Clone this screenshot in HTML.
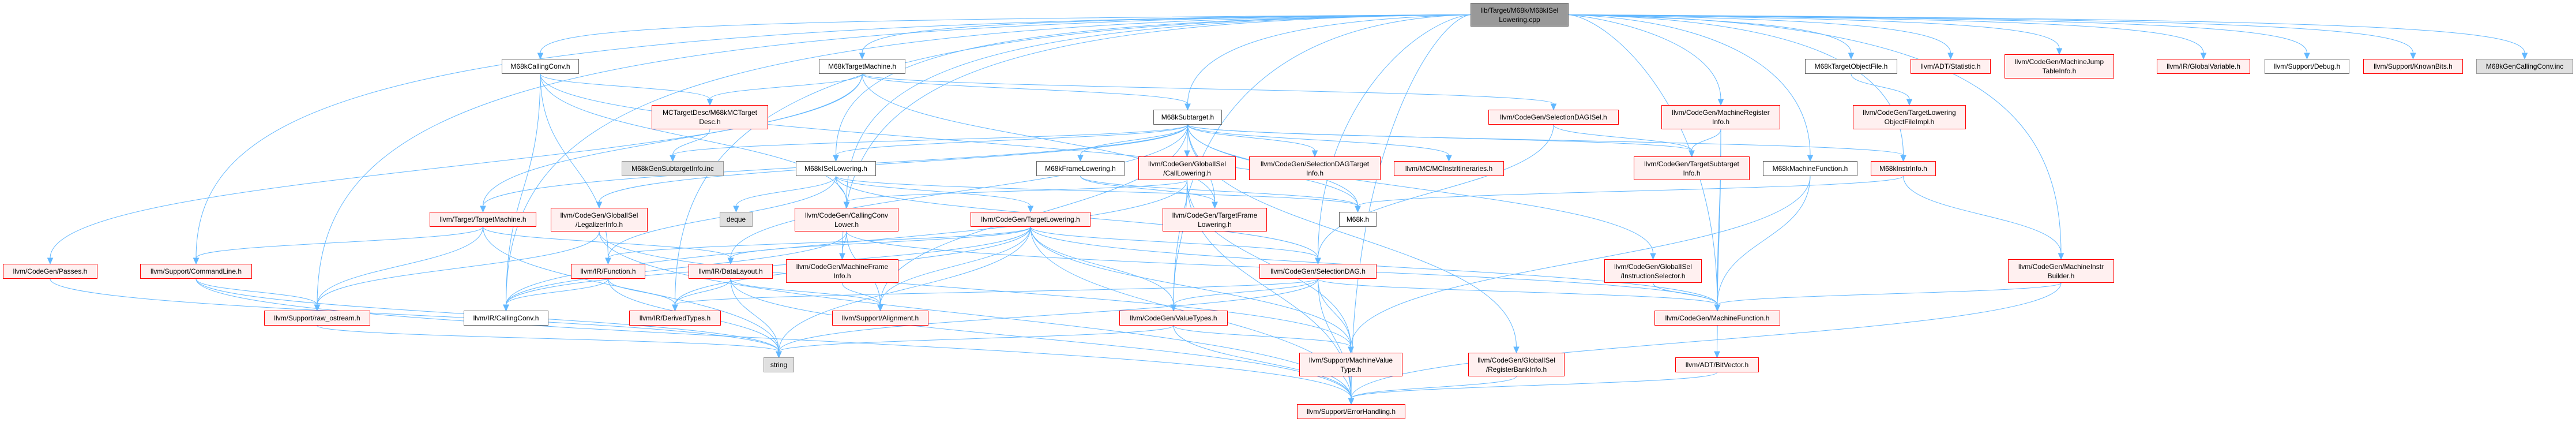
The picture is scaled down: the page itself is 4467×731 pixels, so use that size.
<!DOCTYPE html>
<html><head><meta charset="utf-8">
<style>
html,body{margin:0;padding:0;background:#fff;}
#wrap{position:relative;width:4467px;height:731px;overflow:hidden;background:#fff;}
svg{position:absolute;left:0;top:0;}
.n{position:absolute;box-sizing:border-box;font-family:"Liberation Sans",Arial,sans-serif;font-size:12px;color:#000;text-align:center;display:flex;align-items:center;justify-content:center;line-height:16px;white-space:nowrap;}
.r{background:#fff0f0;border:1px solid #ff0000;}
.w{background:#fff;border:1px solid #666;}
.g{background:#e0e0e0;border:1px solid #999;}
.root{background:#999;border:1px solid #666;}
</style></head><body>
<div id="wrap">
<svg id="edges" width="4467" height="731"></svg>

<div class="n root" id="root" style="left:2550px;top:5px;width:170px;height:41px">lib/Target/M68k/M68kISel<br>Lowering.cpp</div>

<div class="n w" id="cc" style="left:870px;top:102px;width:134px;height:26px">M68kCallingConv.h</div>
<div class="n w" id="tm" style="left:1420px;top:102px;width:150px;height:26px">M68kTargetMachine.h</div>
<div class="n w" id="tof" style="left:3130px;top:102px;width:160px;height:26px">M68kTargetObjectFile.h</div>
<div class="n r" id="stat" style="left:3313px;top:102px;width:139px;height:26px">llvm/ADT/Statistic.h</div>
<div class="n r" id="mjt" style="left:3476px;top:94px;width:190px;height:42px">llvm/CodeGen/MachineJump<br>TableInfo.h</div>
<div class="n r" id="gv" style="left:3740px;top:102px;width:162px;height:26px">llvm/IR/GlobalVariable.h</div>
<div class="n w" id="dbg" style="left:3927px;top:102px;width:147px;height:26px">llvm/Support/Debug.h</div>
<div class="n r" id="kb" style="left:4098px;top:102px;width:173px;height:26px">llvm/Support/KnownBits.h</div>
<div class="n g" id="gcc" style="left:4294px;top:102px;width:168px;height:26px">M68kGenCallingConv.inc</div>

<div class="n r" id="mctd" style="left:1130px;top:182px;width:202px;height:42px">MCTargetDesc/M68kMCTarget<br>Desc.h</div>
<div class="n w" id="st" style="left:2000px;top:190px;width:119px;height:26px">M68kSubtarget.h</div>
<div class="n r" id="sdisel" style="left:2581px;top:190px;width:226px;height:26px">llvm/CodeGen/SelectionDAGISel.h</div>
<div class="n r" id="mri" style="left:2881px;top:182px;width:206px;height:42px">llvm/CodeGen/MachineRegister<br>Info.h</div>
<div class="n r" id="tlofi" style="left:3213px;top:182px;width:196px;height:42px">llvm/CodeGen/TargetLowering<br>ObjectFileImpl.h</div>

<div class="n g" id="gsi" style="left:1078px;top:279px;width:177px;height:26px">M68kGenSubtargetInfo.inc</div>
<div class="n w" id="isl" style="left:1380px;top:279px;width:139px;height:26px">M68kISelLowering.h</div>
<div class="n w" id="fl" style="left:1797px;top:279px;width:153px;height:26px">M68kFrameLowering.h</div>
<div class="n r" id="cl" style="left:1974px;top:271px;width:169px;height:41px">llvm/CodeGen/GlobalISel<br>/CallLowering.h</div>
<div class="n r" id="sdti" style="left:2166px;top:271px;width:228px;height:41px">llvm/CodeGen/SelectionDAGTarget<br>Info.h</div>
<div class="n r" id="mcii" style="left:2417px;top:279px;width:191px;height:26px">llvm/MC/MCInstrItineraries.h</div>
<div class="n r" id="tsi" style="left:2833px;top:271px;width:201px;height:41px">llvm/CodeGen/TargetSubtarget<br>Info.h</div>
<div class="n w" id="mmf" style="left:3057px;top:279px;width:164px;height:26px">M68kMachineFunction.h</div>
<div class="n r" id="ii" style="left:3244px;top:279px;width:113px;height:26px">M68kInstrInfo.h</div>

<div class="n r" id="ttm" style="left:745px;top:367px;width:185px;height:26px">llvm/Target/TargetMachine.h</div>
<div class="n r" id="li" style="left:955px;top:360px;width:168px;height:41px">llvm/CodeGen/GlobalISel<br>/LegalizerInfo.h</div>
<div class="n g" id="deque" style="left:1248px;top:367px;width:57px;height:26px">deque</div>
<div class="n r" id="ccl" style="left:1378px;top:360px;width:180px;height:41px">llvm/CodeGen/CallingConv<br>Lower.h</div>
<div class="n r" id="tl" style="left:1683px;top:367px;width:208px;height:26px">llvm/CodeGen/TargetLowering.h</div>
<div class="n r" id="tfl" style="left:2016px;top:360px;width:181px;height:41px">llvm/CodeGen/TargetFrame<br>Lowering.h</div>
<div class="n w" id="m68k" style="left:2322px;top:367px;width:65px;height:26px">M68k.h</div>

<div class="n r" id="passes" style="left:5px;top:457px;width:164px;height:26px">llvm/CodeGen/Passes.h</div>
<div class="n r" id="cmd" style="left:243px;top:457px;width:194px;height:26px">llvm/Support/CommandLine.h</div>
<div class="n r" id="fn" style="left:990px;top:457px;width:129px;height:26px">llvm/IR/Function.h</div>
<div class="n r" id="dl" style="left:1194px;top:457px;width:146px;height:26px">llvm/IR/DataLayout.h</div>
<div class="n r" id="mfi" style="left:1363px;top:449px;width:195px;height:41px">llvm/CodeGen/MachineFrame<br>Info.h</div>
<div class="n r" id="sd" style="left:2184px;top:457px;width:203px;height:26px">llvm/CodeGen/SelectionDAG.h</div>
<div class="n r" id="is" style="left:2782px;top:449px;width:169px;height:41px">llvm/CodeGen/GlobalISel<br>/InstructionSelector.h</div>
<div class="n r" id="mib" style="left:3482px;top:449px;width:184px;height:41px">llvm/CodeGen/MachineInstr<br>Builder.h</div>

<div class="n r" id="ros" style="left:458px;top:538px;width:184px;height:26px">llvm/Support/raw_ostream.h</div>
<div class="n w" id="ircc" style="left:804px;top:538px;width:147px;height:26px">llvm/IR/CallingConv.h</div>
<div class="n r" id="dt" style="left:1091px;top:538px;width:159px;height:26px">llvm/IR/DerivedTypes.h</div>
<div class="n r" id="al" style="left:1443px;top:538px;width:167px;height:26px">llvm/Support/Alignment.h</div>
<div class="n r" id="vt" style="left:1941px;top:538px;width:188px;height:26px">llvm/CodeGen/ValueTypes.h</div>
<div class="n r" id="mf" style="left:2869px;top:538px;width:218px;height:26px">llvm/CodeGen/MachineFunction.h</div>

<div class="n g" id="str" style="left:1324px;top:619px;width:53px;height:26px">string</div>
<div class="n r" id="mvt" style="left:2253px;top:611px;width:179px;height:41px">llvm/Support/MachineValue<br>Type.h</div>
<div class="n r" id="rbi" style="left:2546px;top:611px;width:167px;height:41px">llvm/CodeGen/GlobalISel<br>/RegisterBankInfo.h</div>
<div class="n r" id="bv" style="left:2905px;top:619px;width:145px;height:26px">llvm/ADT/BitVector.h</div>

<div class="n r" id="eh" style="left:2249px;top:700px;width:188px;height:26px">llvm/Support/ErrorHandling.h</div>
</div>
<script>
var E={
root:"cc tm st isl mmf tof stat mjt gv dbg kb gcc mri mib ccl mfi mf sd vt ircc dt cmd ros eh ii",
cc:"mctd ccl ircc fn m68k",
tm:"mctd st ttm passes sdisel tfl",
mctd:"gsi",
st:"gsi isl fl cl sdti mcii tsi ii li rbi is dl al m68k tfl ttm",
isl:"deque ccl tl sd fn m68k",
fl:"tfl m68k",
cl:"ccl vt mvt eh ircc",
ccl:"mfi al ircc mf",
mfi:"al",
tl:"fn dl dt al vt sd mf mvt eh str ircc",
fn:"ircc dt str",
dl:"dt str al eh",
li:"ros mvt eh",
ttm:"dl ros cmd str",
cmd:"ros str eh",
ros:"str",
passes:"str",
sdisel:"sd tsi",
sd:"mf vt mvt eh str dt",
vt:"mvt str eh",
mvt:"eh",
rbi:"eh",
is:"mf",
mf:"bv",
mri:"tsi bv mf",
tof:"tlofi",
mmf:"mf mvt",
ii:"mib m68k",
mib:"mf eh",
bv:"eh"};
var svg=document.getElementById('edges'),out="";
function box(id){var e=document.getElementById(id);return{x:e.offsetLeft,y:e.offsetTop,w:e.offsetWidth,h:e.offsetHeight};}
for(var s in E){var a=box(s);E[s].split(" ").forEach(function(t){var b=box(t);
 var tx=b.x+b.w/2,ty=b.y,ex=tx,ey=ty-10,sx,sy,d;
 if(s==="root"){
   sy=a.y+a.h/2+(Math.abs(tx-(a.x+a.w/2))<150?a.h/2:0);
   if(Math.abs(tx-(a.x+a.w/2))<150){sx=a.x+a.w/2+(tx-(a.x+a.w/2))*0.5;}
   else sx=(tx<a.x)?a.x:a.x+a.w;
   var k=Math.min(0.85,Math.max(0.3,1-180/Math.max(1,Math.abs(tx-sx))));
   d='M'+sx+','+sy+' C'+(sx+(tx-sx)*k)+','+(sy+8)+' '+ex+','+(sy+(ey-sy)*0.35)+' '+ex+','+ey;
 } else {
   sx=a.x+a.w/2;sy=a.y+a.h;var my=(sy+ey)/2;
   d='M'+sx+','+sy+' C'+sx+','+my+' '+ex+','+my+' '+ex+','+ey;
 }
 out+='<path d="'+d+'" fill="none" stroke="#63b8ff" stroke-width="1"/>';
 out+='<polygon points="'+tx+','+ty+' '+(ex+4.5)+','+ey+' '+(ex-4.5)+','+ey+'" fill="#63b8ff" stroke="#63b8ff"/>';
});}
svg.innerHTML=out;
</script>
</body></html>
